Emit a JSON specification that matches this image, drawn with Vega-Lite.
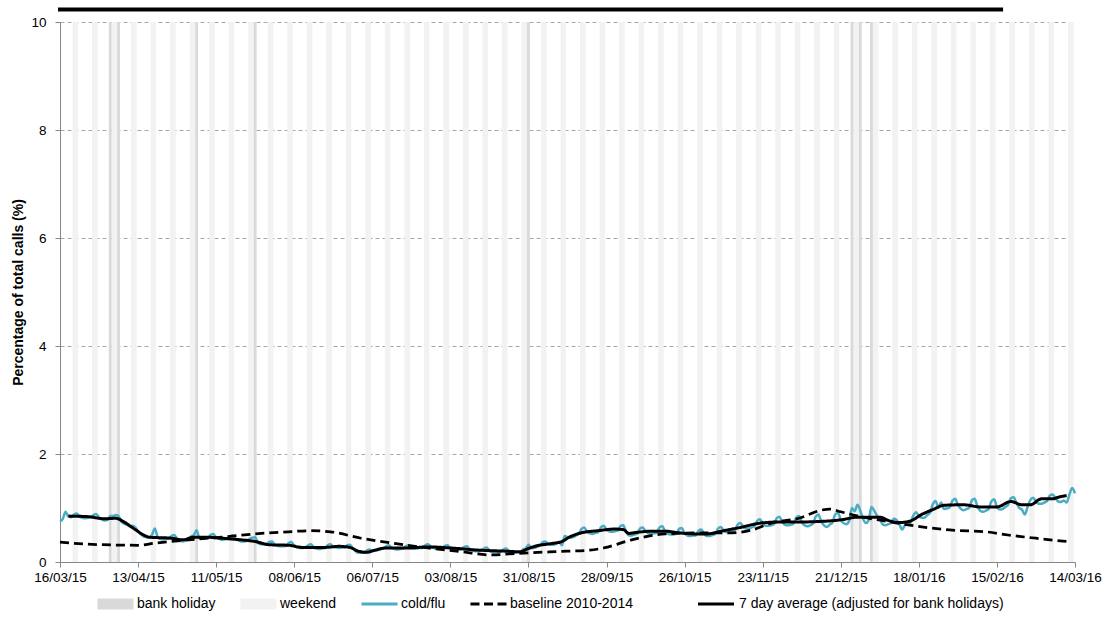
{
"$schema":"https://vega.github.io/schema/vega-lite/v6.json",
"width":1015,"height":540,
"autosize":{"type":"none"},
"padding":{"left":60,"top":22,"right":29,"bottom":66},
"background":"white",
"config":{"view":{"stroke":null},"font":"Liberation Sans",
"axis":{"labelFont":"Liberation Sans","labelFontSize":13.5,"labelColor":"#000000","domainColor":"#868686","tickColor":"#868686","tickSize":5,"domainWidth":1,"tickWidth":1,"zindex":1}},
"datasets":{
"weekends":[
{"start":"2015-03-20T12:00:00Z","end":"2015-03-22T12:00:00Z"},{"start":"2015-03-27T12:00:00Z","end":"2015-03-29T12:00:00Z"},{"start":"2015-04-03T12:00:00Z","end":"2015-04-05T12:00:00Z"},{"start":"2015-04-10T12:00:00Z","end":"2015-04-12T12:00:00Z"},{"start":"2015-04-17T12:00:00Z","end":"2015-04-19T12:00:00Z"},{"start":"2015-04-24T12:00:00Z","end":"2015-04-26T12:00:00Z"},{"start":"2015-05-01T12:00:00Z","end":"2015-05-03T12:00:00Z"},{"start":"2015-05-08T12:00:00Z","end":"2015-05-10T12:00:00Z"},{"start":"2015-05-15T12:00:00Z","end":"2015-05-17T12:00:00Z"},{"start":"2015-05-22T12:00:00Z","end":"2015-05-24T12:00:00Z"},{"start":"2015-05-29T12:00:00Z","end":"2015-05-31T12:00:00Z"},{"start":"2015-06-05T12:00:00Z","end":"2015-06-07T12:00:00Z"},{"start":"2015-06-12T12:00:00Z","end":"2015-06-14T12:00:00Z"},{"start":"2015-06-19T12:00:00Z","end":"2015-06-21T12:00:00Z"},{"start":"2015-06-26T12:00:00Z","end":"2015-06-28T12:00:00Z"},{"start":"2015-07-03T12:00:00Z","end":"2015-07-05T12:00:00Z"},{"start":"2015-07-10T12:00:00Z","end":"2015-07-12T12:00:00Z"},{"start":"2015-07-17T12:00:00Z","end":"2015-07-19T12:00:00Z"},{"start":"2015-07-24T12:00:00Z","end":"2015-07-26T12:00:00Z"},{"start":"2015-07-31T12:00:00Z","end":"2015-08-02T12:00:00Z"},{"start":"2015-08-07T12:00:00Z","end":"2015-08-09T12:00:00Z"},{"start":"2015-08-14T12:00:00Z","end":"2015-08-16T12:00:00Z"},{"start":"2015-08-21T12:00:00Z","end":"2015-08-23T12:00:00Z"},{"start":"2015-08-28T12:00:00Z","end":"2015-08-30T12:00:00Z"},{"start":"2015-09-04T12:00:00Z","end":"2015-09-06T12:00:00Z"},{"start":"2015-09-11T12:00:00Z","end":"2015-09-13T12:00:00Z"},{"start":"2015-09-18T12:00:00Z","end":"2015-09-20T12:00:00Z"},{"start":"2015-09-25T12:00:00Z","end":"2015-09-27T12:00:00Z"},{"start":"2015-10-02T12:00:00Z","end":"2015-10-04T12:00:00Z"},{"start":"2015-10-09T12:00:00Z","end":"2015-10-11T12:00:00Z"},{"start":"2015-10-16T12:00:00Z","end":"2015-10-18T12:00:00Z"},{"start":"2015-10-23T12:00:00Z","end":"2015-10-25T12:00:00Z"},{"start":"2015-10-30T12:00:00Z","end":"2015-11-01T12:00:00Z"},{"start":"2015-11-06T12:00:00Z","end":"2015-11-08T12:00:00Z"},{"start":"2015-11-13T12:00:00Z","end":"2015-11-15T12:00:00Z"},{"start":"2015-11-20T12:00:00Z","end":"2015-11-22T12:00:00Z"},{"start":"2015-11-27T12:00:00Z","end":"2015-11-29T12:00:00Z"},{"start":"2015-12-04T12:00:00Z","end":"2015-12-06T12:00:00Z"},{"start":"2015-12-11T12:00:00Z","end":"2015-12-13T12:00:00Z"},{"start":"2015-12-18T12:00:00Z","end":"2015-12-20T12:00:00Z"},{"start":"2015-12-25T12:00:00Z","end":"2015-12-27T12:00:00Z"},{"start":"2016-01-01T12:00:00Z","end":"2016-01-03T12:00:00Z"},{"start":"2016-01-08T12:00:00Z","end":"2016-01-10T12:00:00Z"},{"start":"2016-01-15T12:00:00Z","end":"2016-01-17T12:00:00Z"},{"start":"2016-01-22T12:00:00Z","end":"2016-01-24T12:00:00Z"},{"start":"2016-01-29T12:00:00Z","end":"2016-01-31T12:00:00Z"},{"start":"2016-02-05T12:00:00Z","end":"2016-02-07T12:00:00Z"},{"start":"2016-02-12T12:00:00Z","end":"2016-02-14T12:00:00Z"},{"start":"2016-02-19T12:00:00Z","end":"2016-02-21T12:00:00Z"},{"start":"2016-02-26T12:00:00Z","end":"2016-02-28T12:00:00Z"},{"start":"2016-03-04T12:00:00Z","end":"2016-03-06T12:00:00Z"},{"start":"2016-03-11T12:00:00Z","end":"2016-03-13T12:00:00Z"}],
"holidays":[
{"start":"2015-04-02T12:00:00Z","end":"2015-04-03T12:00:00Z"},{"start":"2015-04-05T12:00:00Z","end":"2015-04-06T12:00:00Z"},{"start":"2015-05-03T12:00:00Z","end":"2015-05-04T12:00:00Z"},{"start":"2015-05-24T12:00:00Z","end":"2015-05-25T12:00:00Z"},{"start":"2015-08-30T12:00:00Z","end":"2015-08-31T12:00:00Z"},{"start":"2015-12-24T12:00:00Z","end":"2015-12-25T12:00:00Z"},{"start":"2015-12-27T12:00:00Z","end":"2015-12-28T12:00:00Z"},{"start":"2015-12-31T12:00:00Z","end":"2016-01-01T12:00:00Z"}],
"topbar":[{"start":"2015-03-15T07:00:00Z","end":"2016-02-17T05:00:00Z","level":10.23}],
"baseline":[
{"date":"2015-03-16","pct":0.37},{"date":"2015-03-26","pct":0.33},{"date":"2015-04-13","pct":0.31},{"date":"2015-04-19","pct":0.35},{"date":"2015-05-01","pct":0.41},{"date":"2015-05-13","pct":0.46},{"date":"2015-05-25","pct":0.52},{"date":"2015-06-06","pct":0.56},{"date":"2015-06-14","pct":0.58},{"date":"2015-06-21","pct":0.56},{"date":"2015-07-02","pct":0.44},{"date":"2015-07-13","pct":0.35},{"date":"2015-07-26","pct":0.26},{"date":"2015-08-07","pct":0.19},{"date":"2015-08-18","pct":0.13},{"date":"2015-08-24","pct":0.15},{"date":"2015-08-31","pct":0.17},{"date":"2015-09-14","pct":0.20},{"date":"2015-09-22","pct":0.22},{"date":"2015-09-27","pct":0.26},{"date":"2015-10-07","pct":0.41},{"date":"2015-10-19","pct":0.52},{"date":"2015-10-31","pct":0.54},{"date":"2015-11-12","pct":0.54},{"date":"2015-11-19","pct":0.59},{"date":"2015-11-26","pct":0.72},{"date":"2015-12-06","pct":0.81},{"date":"2015-12-14","pct":0.96},{"date":"2015-12-17","pct":0.98},{"date":"2015-12-21","pct":0.93},{"date":"2015-12-28","pct":0.84},{"date":"2016-01-07","pct":0.75},{"date":"2016-01-19","pct":0.65},{"date":"2016-01-30","pct":0.59},{"date":"2016-02-11","pct":0.56},{"date":"2016-02-19","pct":0.50},{"date":"2016-02-29","pct":0.44},{"date":"2016-03-11","pct":0.38}],
"avg":[
{"date":"2015-03-19","pct":0.85},{"date":"2015-03-26","pct":0.84},{"date":"2015-04-01","pct":0.80},{"date":"2015-04-05","pct":0.81},{"date":"2015-04-08","pct":0.74},{"date":"2015-04-12","pct":0.60},{"date":"2015-04-15","pct":0.50},{"date":"2015-04-17","pct":0.46},{"date":"2015-04-25","pct":0.44},{"date":"2015-04-29","pct":0.41},{"date":"2015-05-03","pct":0.46},{"date":"2015-05-07","pct":0.46},{"date":"2015-05-13","pct":0.44},{"date":"2015-05-20","pct":0.41},{"date":"2015-05-25","pct":0.38},{"date":"2015-05-30","pct":0.32},{"date":"2015-06-06","pct":0.31},{"date":"2015-06-11","pct":0.27},{"date":"2015-06-19","pct":0.27},{"date":"2015-06-24","pct":0.29},{"date":"2015-06-28","pct":0.27},{"date":"2015-07-01","pct":0.20},{"date":"2015-07-04","pct":0.18},{"date":"2015-07-07","pct":0.22},{"date":"2015-07-11","pct":0.26},{"date":"2015-07-19","pct":0.26},{"date":"2015-07-26","pct":0.28},{"date":"2015-08-03","pct":0.26},{"date":"2015-08-13","pct":0.22},{"date":"2015-08-23","pct":0.20},{"date":"2015-08-28","pct":0.19},{"date":"2015-08-31","pct":0.25},{"date":"2015-09-03","pct":0.30},{"date":"2015-09-08","pct":0.34},{"date":"2015-09-12","pct":0.38},{"date":"2015-09-15","pct":0.47},{"date":"2015-09-19","pct":0.54},{"date":"2015-09-25","pct":0.58},{"date":"2015-10-01","pct":0.61},{"date":"2015-10-04","pct":0.60},{"date":"2015-10-06","pct":0.53},{"date":"2015-10-09","pct":0.55},{"date":"2015-10-14","pct":0.57},{"date":"2015-10-19","pct":0.57},{"date":"2015-10-24","pct":0.54},{"date":"2015-10-30","pct":0.52},{"date":"2015-11-03","pct":0.52},{"date":"2015-11-09","pct":0.58},{"date":"2015-11-15","pct":0.64},{"date":"2015-11-21","pct":0.71},{"date":"2015-11-28","pct":0.74},{"date":"2015-12-05","pct":0.74},{"date":"2015-12-13","pct":0.75},{"date":"2015-12-21","pct":0.78},{"date":"2015-12-27","pct":0.83},{"date":"2016-01-04","pct":0.83},{"date":"2016-01-07","pct":0.77},{"date":"2016-01-11","pct":0.73},{"date":"2016-01-15","pct":0.76},{"date":"2016-01-19","pct":0.88},{"date":"2016-01-23","pct":0.97},{"date":"2016-01-27","pct":1.05},{"date":"2016-02-03","pct":1.06},{"date":"2016-02-09","pct":1.02},{"date":"2016-02-15","pct":1.02},{"date":"2016-02-20","pct":1.12},{"date":"2016-02-24","pct":1.06},{"date":"2016-02-27","pct":1.06},{"date":"2016-03-02","pct":1.17},{"date":"2016-03-06","pct":1.17},{"date":"2016-03-08","pct":1.20},{"date":"2016-03-11","pct":1.23}],
"coldflu":[
{"date":"2015-03-16","pct":0.75},{"date":"2015-03-17","pct":0.80},{"date":"2015-03-18","pct":0.93},{"date":"2015-03-19","pct":0.84},{"date":"2015-03-20","pct":0.83},{"date":"2015-03-21","pct":0.88},{"date":"2015-03-22","pct":0.90},
{"date":"2015-03-23","pct":0.84},{"date":"2015-03-24","pct":0.82},{"date":"2015-03-25","pct":0.81},{"date":"2015-03-26","pct":0.82},{"date":"2015-03-27","pct":0.83},{"date":"2015-03-28","pct":0.87},{"date":"2015-03-29","pct":0.89},
{"date":"2015-03-30","pct":0.82},{"date":"2015-03-31","pct":0.79},{"date":"2015-04-01","pct":0.77},{"date":"2015-04-02","pct":0.78},{"date":"2015-04-03","pct":0.85},{"date":"2015-04-04","pct":0.85},{"date":"2015-04-05","pct":0.87},
{"date":"2015-04-06","pct":0.85},{"date":"2015-04-07","pct":0.75},{"date":"2015-04-08","pct":0.71},{"date":"2015-04-09","pct":0.69},{"date":"2015-04-10","pct":0.66},{"date":"2015-04-11","pct":0.67},{"date":"2015-04-12","pct":0.64},
{"date":"2015-04-13","pct":0.57},{"date":"2015-04-14","pct":0.51},{"date":"2015-04-15","pct":0.47},{"date":"2015-04-16","pct":0.46},{"date":"2015-04-17","pct":0.45},{"date":"2015-04-18","pct":0.50},{"date":"2015-04-19","pct":0.62},
{"date":"2015-04-20","pct":0.47},{"date":"2015-04-21","pct":0.43},{"date":"2015-04-22","pct":0.42},{"date":"2015-04-23","pct":0.43},{"date":"2015-04-24","pct":0.43},{"date":"2015-04-25","pct":0.48},{"date":"2015-04-26","pct":0.50},
{"date":"2015-04-27","pct":0.43},{"date":"2015-04-28","pct":0.40},{"date":"2015-04-29","pct":0.38},{"date":"2015-04-30","pct":0.40},{"date":"2015-05-01","pct":0.42},{"date":"2015-05-02","pct":0.47},{"date":"2015-05-03","pct":0.50},
{"date":"2015-05-04","pct":0.59},{"date":"2015-05-05","pct":0.44},{"date":"2015-05-06","pct":0.43},{"date":"2015-05-07","pct":0.44},{"date":"2015-05-08","pct":0.45},{"date":"2015-05-09","pct":0.50},{"date":"2015-05-10","pct":0.52},
{"date":"2015-05-11","pct":0.45},{"date":"2015-05-12","pct":0.43},{"date":"2015-05-13","pct":0.41},{"date":"2015-05-14","pct":0.42},{"date":"2015-05-15","pct":0.43},{"date":"2015-05-16","pct":0.47},{"date":"2015-05-17","pct":0.49},
{"date":"2015-05-18","pct":0.42},{"date":"2015-05-19","pct":0.40},{"date":"2015-05-20","pct":0.38},{"date":"2015-05-21","pct":0.38},{"date":"2015-05-22","pct":0.39},{"date":"2015-05-23","pct":0.43},{"date":"2015-05-24","pct":0.45},
{"date":"2015-05-25","pct":0.46},{"date":"2015-05-26","pct":0.35},{"date":"2015-05-27","pct":0.33},{"date":"2015-05-28","pct":0.33},{"date":"2015-05-29","pct":0.33},{"date":"2015-05-30","pct":0.37},{"date":"2015-05-31","pct":0.38},
{"date":"2015-06-01","pct":0.32},{"date":"2015-06-02","pct":0.30},{"date":"2015-06-03","pct":0.29},{"date":"2015-06-04","pct":0.29},{"date":"2015-06-05","pct":0.30},{"date":"2015-06-06","pct":0.35},{"date":"2015-06-07","pct":0.37},
{"date":"2015-06-08","pct":0.30},{"date":"2015-06-09","pct":0.27},{"date":"2015-06-10","pct":0.26},{"date":"2015-06-11","pct":0.26},{"date":"2015-06-12","pct":0.27},{"date":"2015-06-13","pct":0.31},{"date":"2015-06-14","pct":0.33},
{"date":"2015-06-15","pct":0.27},{"date":"2015-06-16","pct":0.25},{"date":"2015-06-17","pct":0.24},{"date":"2015-06-18","pct":0.25},{"date":"2015-06-19","pct":0.26},{"date":"2015-06-20","pct":0.31},{"date":"2015-06-21","pct":0.33},
{"date":"2015-06-22","pct":0.28},{"date":"2015-06-23","pct":0.27},{"date":"2015-06-24","pct":0.26},{"date":"2015-06-25","pct":0.27},{"date":"2015-06-26","pct":0.27},{"date":"2015-06-27","pct":0.31},{"date":"2015-06-28","pct":0.32},
{"date":"2015-06-29","pct":0.25},{"date":"2015-06-30","pct":0.20},{"date":"2015-07-01","pct":0.17},{"date":"2015-07-02","pct":0.17},{"date":"2015-07-03","pct":0.17},{"date":"2015-07-04","pct":0.21},{"date":"2015-07-05","pct":0.23},
{"date":"2015-07-06","pct":0.21},{"date":"2015-07-07","pct":0.21},{"date":"2015-07-08","pct":0.22},{"date":"2015-07-09","pct":0.24},{"date":"2015-07-10","pct":0.25},{"date":"2015-07-11","pct":0.29},{"date":"2015-07-12","pct":0.31},
{"date":"2015-07-13","pct":0.26},{"date":"2015-07-14","pct":0.24},{"date":"2015-07-15","pct":0.23},{"date":"2015-07-16","pct":0.24},{"date":"2015-07-17","pct":0.25},{"date":"2015-07-18","pct":0.29},{"date":"2015-07-19","pct":0.31},
{"date":"2015-07-20","pct":0.26},{"date":"2015-07-21","pct":0.25},{"date":"2015-07-22","pct":0.25},{"date":"2015-07-23","pct":0.26},{"date":"2015-07-24","pct":0.26},{"date":"2015-07-25","pct":0.31},{"date":"2015-07-26","pct":0.33},
{"date":"2015-07-27","pct":0.28},{"date":"2015-07-28","pct":0.26},{"date":"2015-07-29","pct":0.25},{"date":"2015-07-30","pct":0.25},{"date":"2015-07-31","pct":0.26},{"date":"2015-08-01","pct":0.30},{"date":"2015-08-02","pct":0.31},
{"date":"2015-08-03","pct":0.26},{"date":"2015-08-04","pct":0.24},{"date":"2015-08-05","pct":0.23},{"date":"2015-08-06","pct":0.23},{"date":"2015-08-07","pct":0.24},{"date":"2015-08-08","pct":0.28},{"date":"2015-08-09","pct":0.29},
{"date":"2015-08-10","pct":0.23},{"date":"2015-08-11","pct":0.21},{"date":"2015-08-12","pct":0.20},{"date":"2015-08-13","pct":0.20},{"date":"2015-08-14","pct":0.21},{"date":"2015-08-15","pct":0.25},{"date":"2015-08-16","pct":0.27},
{"date":"2015-08-17","pct":0.21},{"date":"2015-08-18","pct":0.19},{"date":"2015-08-19","pct":0.18},{"date":"2015-08-20","pct":0.18},{"date":"2015-08-21","pct":0.19},{"date":"2015-08-22","pct":0.23},{"date":"2015-08-23","pct":0.25},
{"date":"2015-08-24","pct":0.20},{"date":"2015-08-25","pct":0.18},{"date":"2015-08-26","pct":0.17},{"date":"2015-08-27","pct":0.18},{"date":"2015-08-28","pct":0.18},{"date":"2015-08-29","pct":0.23},{"date":"2015-08-30","pct":0.25},
{"date":"2015-08-31","pct":0.32},{"date":"2015-09-01","pct":0.26},{"date":"2015-09-02","pct":0.26},{"date":"2015-09-03","pct":0.28},{"date":"2015-09-04","pct":0.30},{"date":"2015-09-05","pct":0.36},{"date":"2015-09-06","pct":0.38},
{"date":"2015-09-07","pct":0.34},{"date":"2015-09-08","pct":0.32},{"date":"2015-09-09","pct":0.32},{"date":"2015-09-10","pct":0.34},{"date":"2015-09-11","pct":0.37},{"date":"2015-09-12","pct":0.31},{"date":"2015-09-13","pct":0.48},
{"date":"2015-09-14","pct":0.46},{"date":"2015-09-15","pct":0.45},{"date":"2015-09-16","pct":0.46},{"date":"2015-09-17","pct":0.49},{"date":"2015-09-18","pct":0.52},{"date":"2015-09-19","pct":0.61},{"date":"2015-09-20","pct":0.64},
{"date":"2015-09-21","pct":0.56},{"date":"2015-09-22","pct":0.53},{"date":"2015-09-23","pct":0.52},{"date":"2015-09-24","pct":0.54},{"date":"2015-09-25","pct":0.55},{"date":"2015-09-26","pct":0.64},{"date":"2015-09-27","pct":0.67},
{"date":"2015-09-28","pct":0.60},{"date":"2015-09-29","pct":0.57},{"date":"2015-09-30","pct":0.56},{"date":"2015-10-01","pct":0.57},{"date":"2015-10-02","pct":0.58},{"date":"2015-10-03","pct":0.67},{"date":"2015-10-04","pct":0.68},
{"date":"2015-10-05","pct":0.56},{"date":"2015-10-06","pct":0.49},{"date":"2015-10-07","pct":0.49},{"date":"2015-10-08","pct":0.51},{"date":"2015-10-09","pct":0.52},{"date":"2015-10-10","pct":0.62},{"date":"2015-10-11","pct":0.64},
{"date":"2015-10-12","pct":0.57},{"date":"2015-10-13","pct":0.53},{"date":"2015-10-14","pct":0.52},{"date":"2015-10-15","pct":0.53},{"date":"2015-10-16","pct":0.54},{"date":"2015-10-17","pct":0.64},{"date":"2015-10-18","pct":0.66},
{"date":"2015-10-19","pct":0.57},{"date":"2015-10-20","pct":0.52},{"date":"2015-10-21","pct":0.51},{"date":"2015-10-22","pct":0.51},{"date":"2015-10-23","pct":0.52},{"date":"2015-10-24","pct":0.61},{"date":"2015-10-25","pct":0.63},
{"date":"2015-10-26","pct":0.53},{"date":"2015-10-27","pct":0.49},{"date":"2015-10-28","pct":0.48},{"date":"2015-10-29","pct":0.49},{"date":"2015-10-30","pct":0.49},{"date":"2015-10-31","pct":0.58},{"date":"2015-11-01","pct":0.60},
{"date":"2015-11-02","pct":0.52},{"date":"2015-11-03","pct":0.48},{"date":"2015-11-04","pct":0.48},{"date":"2015-11-05","pct":0.50},{"date":"2015-11-06","pct":0.52},{"date":"2015-11-07","pct":0.62},{"date":"2015-11-08","pct":0.65},
{"date":"2015-11-09","pct":0.58},{"date":"2015-11-10","pct":0.55},{"date":"2015-11-11","pct":0.55},{"date":"2015-11-12","pct":0.57},{"date":"2015-11-13","pct":0.59},{"date":"2015-11-14","pct":0.69},{"date":"2015-11-15","pct":0.72},
{"date":"2015-11-16","pct":0.65},{"date":"2015-11-17","pct":0.62},{"date":"2015-11-18","pct":0.62},{"date":"2015-11-19","pct":0.64},{"date":"2015-11-20","pct":0.66},{"date":"2015-11-21","pct":0.76},{"date":"2015-11-22","pct":0.79},
{"date":"2015-11-23","pct":0.72},{"date":"2015-11-24","pct":0.67},{"date":"2015-11-25","pct":0.67},{"date":"2015-11-26","pct":0.68},{"date":"2015-11-27","pct":0.70},{"date":"2015-11-28","pct":0.81},{"date":"2015-11-29","pct":0.84},
{"date":"2015-11-30","pct":0.74},{"date":"2015-12-01","pct":0.69},{"date":"2015-12-02","pct":0.68},{"date":"2015-12-03","pct":0.69},{"date":"2015-12-04","pct":0.71},{"date":"2015-12-05","pct":0.82},{"date":"2015-12-06","pct":0.85},
{"date":"2015-12-07","pct":0.74},{"date":"2015-12-08","pct":0.68},{"date":"2015-12-09","pct":0.66},{"date":"2015-12-10","pct":0.68},{"date":"2015-12-11","pct":0.71},{"date":"2015-12-12","pct":0.84},{"date":"2015-12-13","pct":0.88},
{"date":"2015-12-14","pct":0.75},{"date":"2015-12-15","pct":0.68},{"date":"2015-12-16","pct":0.65},{"date":"2015-12-17","pct":0.69},{"date":"2015-12-18","pct":0.73},{"date":"2015-12-19","pct":0.88},{"date":"2015-12-20","pct":0.91},
{"date":"2015-12-21","pct":0.78},{"date":"2015-12-22","pct":0.72},{"date":"2015-12-23","pct":0.70},{"date":"2015-12-24","pct":0.76},{"date":"2015-12-25","pct":1.00},{"date":"2015-12-26","pct":0.94},{"date":"2015-12-27","pct":1.06},
{"date":"2015-12-28","pct":0.95},{"date":"2015-12-29","pct":0.80},{"date":"2015-12-30","pct":0.72},{"date":"2015-12-31","pct":0.77},{"date":"2016-01-01","pct":1.02},{"date":"2016-01-02","pct":0.95},{"date":"2016-01-03","pct":0.86},
{"date":"2016-01-04","pct":0.80},{"date":"2016-01-05","pct":0.70},{"date":"2016-01-06","pct":0.68},{"date":"2016-01-07","pct":0.70},{"date":"2016-01-08","pct":0.72},{"date":"2016-01-09","pct":0.80},{"date":"2016-01-10","pct":0.78},
{"date":"2016-01-11","pct":0.70},{"date":"2016-01-12","pct":0.60},{"date":"2016-01-13","pct":0.68},{"date":"2016-01-14","pct":0.70},{"date":"2016-01-15","pct":0.73},{"date":"2016-01-16","pct":0.86},{"date":"2016-01-17","pct":0.92},
{"date":"2016-01-18","pct":0.85},{"date":"2016-01-19","pct":0.82},{"date":"2016-01-20","pct":0.82},{"date":"2016-01-21","pct":0.87},{"date":"2016-01-22","pct":0.91},{"date":"2016-01-23","pct":1.07},{"date":"2016-01-24","pct":1.13},
{"date":"2016-01-25","pct":1.01},{"date":"2016-01-26","pct":1.10},{"date":"2016-01-27","pct":0.98},{"date":"2016-01-28","pct":0.99},{"date":"2016-01-29","pct":1.01},{"date":"2016-01-30","pct":1.13},{"date":"2016-01-31","pct":1.17},
{"date":"2016-02-01","pct":1.06},{"date":"2016-02-02","pct":0.99},{"date":"2016-02-03","pct":0.96},{"date":"2016-02-04","pct":0.98},{"date":"2016-02-05","pct":1.00},{"date":"2016-02-06","pct":1.14},{"date":"2016-02-07","pct":1.17},
{"date":"2016-02-08","pct":1.03},{"date":"2016-02-09","pct":0.95},{"date":"2016-02-10","pct":0.93},{"date":"2016-02-11","pct":0.95},{"date":"2016-02-12","pct":0.98},{"date":"2016-02-13","pct":1.12},{"date":"2016-02-14","pct":1.16},
{"date":"2016-02-15","pct":1.02},{"date":"2016-02-16","pct":0.97},{"date":"2016-02-17","pct":0.98},{"date":"2016-02-18","pct":1.02},{"date":"2016-02-19","pct":1.06},{"date":"2016-02-20","pct":1.18},{"date":"2016-02-21","pct":1.20},
{"date":"2016-02-22","pct":1.09},{"date":"2016-02-23","pct":1.00},{"date":"2016-02-24","pct":0.97},{"date":"2016-02-25","pct":0.88},{"date":"2016-02-26","pct":1.02},{"date":"2016-02-27","pct":1.15},{"date":"2016-02-28","pct":1.19},
{"date":"2016-02-29","pct":1.12},{"date":"2016-03-01","pct":1.08},{"date":"2016-03-02","pct":1.08},{"date":"2016-03-03","pct":1.10},{"date":"2016-03-04","pct":1.13},{"date":"2016-03-05","pct":1.23},{"date":"2016-03-06","pct":1.25},
{"date":"2016-03-07","pct":1.18},{"date":"2016-03-08","pct":1.12},{"date":"2016-03-09","pct":1.11},{"date":"2016-03-10","pct":1.14},{"date":"2016-03-11","pct":1.10},{"date":"2016-03-12","pct":1.25},{"date":"2016-03-13","pct":1.37},
{"date":"2016-03-14","pct":1.27}]
},
"layer":[
{"data":{"name":"weekends"},"mark":{"type":"rect"},
"encoding":{
"x":{"field":"start","type":"temporal",
"scale":{"type":"utc","domain":[{"year":2015,"month":3,"date":16,"utc":true},{"year":2016,"month":3,"date":14,"utc":true}]},
"axis":{"title":null,"grid":false,"format":"%d/%m/%y","labelPadding":3,"labelOverlap":false,"labelFlush":false,
"values":[{"year":2015,"month":3,"date":16,"utc":true},{"year":2015,"month":4,"date":13,"utc":true},{"year":2015,"month":5,"date":11,"utc":true},{"year":2015,"month":6,"date":8,"utc":true},{"year":2015,"month":7,"date":6,"utc":true},{"year":2015,"month":8,"date":3,"utc":true},{"year":2015,"month":8,"date":31,"utc":true},{"year":2015,"month":9,"date":28,"utc":true},{"year":2015,"month":10,"date":26,"utc":true},{"year":2015,"month":11,"date":23,"utc":true},{"year":2015,"month":12,"date":21,"utc":true},{"year":2016,"month":1,"date":18,"utc":true},{"year":2016,"month":2,"date":15,"utc":true},{"year":2016,"month":3,"date":14,"utc":true}]}},
"x2":{"field":"end"},
"y":{"datum":0,"type":"quantitative","scale":{"domain":[0,10],"nice":false},
"axis":{"title":"Percentage of total calls (%)","titleFont":"Liberation Sans","titleFontSize":14,"titleFontWeight":"bold","titleColor":"#000000","titleAngle":270,"titleAlign":"center","titleBaseline":"middle","titleX":-42,"titleY":270,
"values":[0,2,4,6,8,10],"grid":true,"gridDash":[4,3],"gridColor":"#a6a6a6","gridWidth":1,"labelPadding":9}},
"y2":{"datum":10},
"color":{"datum":"weekend","type":"nominal",
"scale":{"domain":["bank holiday","weekend","cold/flu","baseline 2010-2014"],"range":["#d9d9d9","#f2f2f2","#4bacc6","#000000"]},
"legend":{"title":null,"orient":"none","legendX":37,"legendY":574,"direction":"horizontal","symbolType":"square","symbolSize":1300,"symbolStrokeWidth":0,"clipHeight":16,"labelFont":"Liberation Sans","labelFontSize":14,"labelColor":"#000000","labelOffset":3,"labelLimit":400,"columnPadding":24,"padding":0,
"encode":{"symbols":{"update":{"fill":{"scale":"color","field":"value"},"stroke":{"value":"transparent"},"strokeWidth":{"value":0},"opacity":{"value":1},
"shape":{"signal":"datum.value=='bank holiday'||datum.value=='weekend'?'M-1,-0.3H1V0.3H-1Z':(datum.value=='baseline 2010-2014'?'M-1,-0.08H-0.5V0.08H-1ZM-0.25,-0.08H0.25V0.08H-0.25ZM0.5,-0.08H1V0.08H0.5Z':'M-1,-0.08H1V0.08H-1Z')"}}}}}}}},
{"data":{"name":"holidays"},"mark":{"type":"rect"},
"encoding":{"x":{"field":"start","type":"temporal"},"x2":{"field":"end"},
"y":{"datum":0,"type":"quantitative"},"y2":{"datum":10},
"color":{"datum":"bank holiday","type":"nominal"}}},
{"data":{"name":"topbar"},"mark":{"type":"rule","strokeWidth":4,"color":"#000000"},
"encoding":{"x":{"field":"start","type":"temporal"},"x2":{"field":"end"},
"y":{"field":"level","type":"quantitative"}}},
{"data":{"name":"coldflu"},"mark":{"type":"line","strokeWidth":2.5,"interpolate":"monotone"},
"encoding":{"x":{"field":"date","type":"temporal"},
"y":{"field":"pct","type":"quantitative"},
"color":{"datum":"cold/flu","type":"nominal"}}},
{"data":{"name":"baseline"},"mark":{"type":"line","strokeWidth":2.75,"strokeDash":[9,5],"interpolate":"monotone"},
"encoding":{"x":{"field":"date","type":"temporal"},
"y":{"field":"pct","type":"quantitative"},
"color":{"datum":"baseline 2010-2014","type":"nominal"}}},
{"data":{"name":"avg"},"mark":{"type":"line","strokeWidth":3,"interpolate":"monotone","color":"#000000"},
"encoding":{"x":{"field":"date","type":"temporal"},
"y":{"field":"pct","type":"quantitative"},
"strokeDash":{"datum":"7 day average (adjusted for bank holidays)","type":"nominal",
"scale":{"domain":["7 day average (adjusted for bank holidays)"],"range":[[1,0]]},
"legend":{"title":null,"orient":"none","legendX":636,"legendY":574,"direction":"horizontal","symbolType":"stroke","symbolSize":1300,"symbolStrokeWidth":3,"symbolStrokeColor":"#000000","clipHeight":16,"labelFont":"Liberation Sans","labelFontSize":14,"labelColor":"#000000","labelOffset":3,"labelLimit":400,"padding":0,
"encode":{"symbols":{"update":{"shape":{"value":"stroke"},"stroke":{"value":"#000000"},"strokeWidth":{"value":3},"strokeDash":{"value":[1,0]},"strokeOpacity":{"value":1},"opacity":{"value":1}}}}}}}}
]
}
